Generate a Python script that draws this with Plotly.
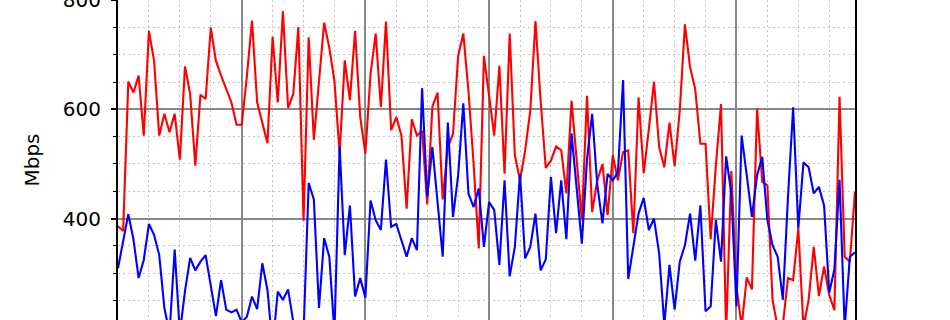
import plotly.graph_objects as go

red_values = [386, 377, 651, 631, 662, 552, 744, 689, 552, 592, 558, 592, 508, 679, 628, 497, 627, 619, 750, 689,
              662, 639, 613, 572, 572, 660, 763, 613, 576, 538, 733, 613, 780, 603, 628, 751, 396, 732, 544, 648,
              759, 713, 652, 519, 690, 617, 744, 586, 519, 665, 739, 604, 761, 562, 586, 552, 418, 582, 552, 561,
              426, 605, 631, 435, 531, 555, 698, 739, 634, 500, 345, 698, 622, 552, 680, 482, 739, 516, 470, 525,
              598, 762, 616, 493, 506, 532, 525, 446, 616, 506, 397, 625, 412, 470, 500, 406, 516, 470, 522, 525,
              373, 622, 483, 564, 651, 531, 494, 576, 496, 598, 756, 677, 637, 537, 537, 362, 497, 610, 190, 487,
              275, 202, 292, 270, 601, 467, 461, 251, 200, 205, 291, 287, 382, 200, 251, 348, 258, 312, 260, 232,
              623, 330, 321, 449]

blue_values = [309, 359, 408, 362, 291, 324, 390, 370, 333, 236, 190, 343, 190, 267, 328, 305, 321, 333, 275, 221,
               287, 233, 228, 233, 210, 220, 257, 234, 318, 269, 165, 266, 251, 270, 211, 170, 190, 465, 435, 236,
               364, 330, 190, 532, 333, 424, 257, 291, 255, 433, 397, 379, 508, 385, 390, 360, 330, 364, 342, 639,
               440, 531, 433, 330, 576, 403, 479, 611, 446, 421, 455, 348, 430, 416, 315, 470, 294, 348, 482, 327,
               348, 409, 305, 325, 476, 373, 470, 362, 556, 458, 354, 509, 592, 461, 391, 482, 470, 485, 654, 289,
               345, 409, 438, 379, 400, 336, 205, 315, 233, 321, 351, 409, 323, 424, 230, 239, 397, 321, 514, 446,
               239, 552, 479, 403, 479, 513, 397, 351, 330, 251, 440, 604, 382, 503, 494, 446, 458, 424, 264, 307,
               471, 200, 330, 338]

x_index = list(range(len(red_values)))
y_title = "Mbps"

fig = go.Figure()
fig.add_trace(go.Scatter(x=x_index, y=red_values, mode="lines",
                         line=dict(color="#ff0000", width=2.1), showlegend=False))
fig.add_trace(go.Scatter(x=x_index, y=blue_values, mode="lines",
                         line=dict(color="#0000ff", width=2.1), showlegend=False))

fig.update_layout(
    width=950, height=320,
    margin=dict(l=118, r=95, t=0, b=0, autoexpand=False),
    paper_bgcolor="white", plot_bgcolor="white",
    font=dict(family="DejaVu Sans", size=20, color="black"),
)

fig.update_xaxes(
    range=[0, len(red_values) - 1],
    tick0=0, dtick=24,
    showticklabels=False, ticks="",
    showgrid=True, gridcolor="#888888", gridwidth=1.6,
    zeroline=False, showline=False,
    minor=dict(dtick=6, tick0=0, showgrid=True, gridcolor="#c4c4c4", gridwidth=1.2, griddash="1.5px,3.5px"),
)

fig.update_yaxes(
    range=[214, 800.6],
    tick0=0, dtick=200,
    ticks="outside", ticklen=5, tickwidth=1.5, tickcolor="black",
    showgrid=True, gridcolor="#888888", gridwidth=1.6,
    zeroline=False,
    showline=True, linecolor="black", linewidth=2, mirror=True,
    minor=dict(dtick=50, tick0=0, ticks="outside", ticklen=3, tickwidth=1, tickcolor="black",
               showgrid=True, gridcolor="#c4c4c4", gridwidth=1.2, griddash="1.5px,3.5px"),
    title=dict(text=y_title, standoff=18, font=dict(size=20)),
    ticklabelstandoff=6,
    ticklabeloverflow="allow",
)

fig.write_html("out.html")
